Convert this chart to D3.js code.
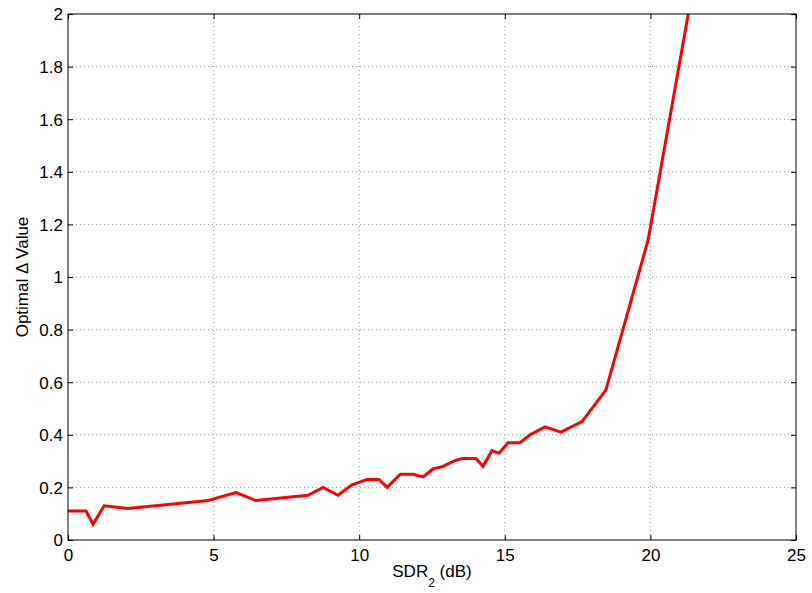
<!DOCTYPE html>
<html><head><meta charset="utf-8">
<script src="https://cdn.jsdelivr.net/npm/d3@7"></script>
<style>body{margin:0;background:#fff}svg{display:block;font-family:"Liberation Sans",Arial,sans-serif}</style>
</head><body><svg id="c" width="812" height="593"></svg>
<script>
const sdr = [0, 0.62, 0.86, 1.24, 2.06, 4.81, 5.77, 6.46, 8.24, 8.76, 9.27, 9.75, 10.27, 10.68, 10.96, 11.41, 11.85, 12.2, 12.53, 12.88, 13.24, 13.53, 14.01, 14.25, 14.56, 14.8, 15.11, 15.52, 15.87, 16.38, 16.93, 17.65, 18.47, 19.92, 21.3];
const delta = [0.11, 0.11, 0.06, 0.13, 0.12, 0.15, 0.18, 0.15, 0.17, 0.20, 0.17, 0.21, 0.23, 0.23, 0.20, 0.25, 0.25, 0.24, 0.27, 0.28, 0.30, 0.31, 0.31, 0.28, 0.34, 0.33, 0.37, 0.37, 0.40, 0.43, 0.41, 0.45, 0.57, 1.14, 2.0];
const xTicks = [0, 5, 10, 15, 20, 25];
const yTicks = [0, 0.2, 0.4, 0.6, 0.8, 1, 1.2, 1.4, 1.6, 1.8, 2];

const L = 68, R = 796, T = 14, B = 540;
const svg = d3.select("#c");
const x = d3.scaleLinear().domain([0, 25]).range([L, R]);
const y = d3.scaleLinear().domain([0, 2]).range([B, T]);

// grid
const g = svg.append("g");
g.selectAll(".gx").data(xTicks.slice(1, -1)).join("line")
  .attr("x1", d => x(d)).attr("x2", d => x(d)).attr("y1", T).attr("y2", B)
  .attr("stroke", "#999").attr("stroke-width", 1).attr("stroke-dasharray", "1,3");
g.selectAll(".gy").data(yTicks.slice(1, -1)).join("line")
  .attr("y1", d => y(d)).attr("y2", d => y(d)).attr("x1", L).attr("x2", R)
  .attr("stroke", "#999").attr("stroke-width", 1).attr("stroke-dasharray", "1,3");

// axes
const fs = 17;
const ax = svg.append("g").attr("transform", `translate(0,${B})`)
  .call(d3.axisBottom(x).tickValues(xTicks).tickSize(-5).tickPadding(9).tickFormat(d3.format("d")));
const axT = svg.append("g").attr("transform", `translate(0,${T})`)
  .call(d3.axisTop(x).tickValues(xTicks).tickSize(-5).tickFormat(""));
const ay = svg.append("g").attr("transform", `translate(${L},0)`)
  .call(d3.axisLeft(y).tickValues(yTicks).tickSize(-5).tickPadding(5).tickFormat(d => d3.format("~g")(d)));
const ayR = svg.append("g").attr("transform", `translate(${R},0)`)
  .call(d3.axisRight(y).tickValues(yTicks).tickSize(-5).tickFormat(""));
[ax, axT, ay, ayR].forEach(a => {
  a.select(".domain").remove();
  a.selectAll("line").attr("stroke", "#000");
  a.selectAll("text").attr("font-size", fs).attr("fill", "#000").attr("font-family", '"Liberation Sans",Arial,sans-serif');
});
ay.selectAll("text").attr("dy", "0.35em");

// clip + line
svg.append("clipPath").attr("id", "clip").append("rect")
  .attr("x", L).attr("y", T).attr("width", R - L).attr("height", B - T);
const pts = sdr.map((v, i) => [v, delta[i]]);
svg.append("path").datum(pts).attr("clip-path", "url(#clip)")
  .attr("fill", "none").attr("stroke", "#ff0000").attr("stroke-width", 3)
  .attr("stroke-linejoin", "miter")
  .attr("d", d3.line().x(d => x(d[0])).y(d => y(d[1])));

// box
svg.append("rect").attr("x", L).attr("y", T).attr("width", R - L).attr("height", B - T)
  .attr("fill", "none").attr("stroke", "#000").attr("stroke-width", 1);

// labels
const xl = svg.append("text").attr("x", x(12.5)).attr("y", 577).attr("text-anchor", "middle")
  .attr("font-size", fs);
xl.append("tspan").text("SDR");
xl.append("tspan").text("2").attr("font-size", 12).attr("dy", 10);
xl.append("tspan").text(" (dB)").attr("dy", -10);
svg.append("text").attr("transform", `translate(28,${(T + B) / 2}) rotate(-90)`)
  .attr("text-anchor", "middle").attr("font-size", fs).text("Optimal \u0394 Value");
</script></body></html>
